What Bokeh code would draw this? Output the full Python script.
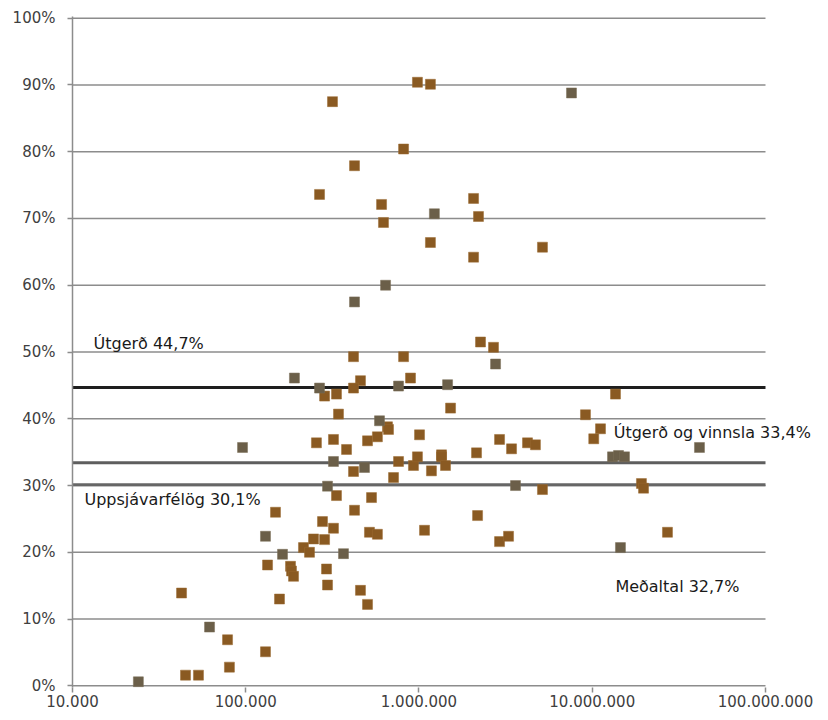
from bokeh.plotting import figure
from bokeh.models import (Range1d, FixedTicker, PrintfTickFormatter, Label,
                          ColumnDataSource)
from bokeh.embed import file_html
from bokeh.resources import INLINE

# ---- data (revenue on log axis, margin in %) ----
# brown series
rev_brown = [979500, 1164000, 316700, 814700, 424400, 266600, 608000, 623700,
             2065000, 2205000, 1164000, 5160000, 2065000, 2265000, 2692000,
             418800, 814700, 893300, 459400, 285100, 334000, 418800, 1521000,
             343000, 657700, 666800, 1007000, 2917000, 255900, 320900, 381700,
             504500, 575400, 2148000, 1349000, 418800, 761900, 929000, 979500,
             1180000, 1349000, 1422000, 712800, 5160000, 19230000, 19770000,
             334000, 532000, 148500, 424400, 2178000, 277300, 320900, 246200,
             285100, 517700, 575400, 215400, 233300, 133600, 181300, 183700,
             188700, 292600, 296500, 459400, 42600, 156600, 504500, 78500,
             130000, 80500, 44900, 53350, 1076000, 2917000, 3287000, 27180000,
             9140000, 13620000, 11160000, 10200000, 3421000, 4230000, 4700000]
pct_brown = [90.4, 90.1, 87.5, 80.4, 77.9, 73.6, 72.1, 69.4,
             73.0, 70.3, 66.4, 65.7, 64.2, 51.5, 50.7,
             49.3, 49.3, 46.1, 45.7, 43.4, 43.7, 44.6, 41.6,
             40.7, 38.8, 38.4, 37.6, 36.9, 36.4, 36.9, 35.4,
             36.7, 37.3, 34.9, 34.6, 32.1, 33.6, 33.0, 34.3,
             32.2, 34.3, 33.0, 31.2, 29.4, 30.3, 29.6,
             28.5, 28.2, 26.0, 26.3, 25.5, 24.6, 23.6, 22.0,
             21.9, 23.0, 22.7, 20.7, 20.0, 18.1, 17.9, 17.2,
             16.4, 17.5, 15.1, 14.3, 13.9, 13.0, 12.2, 6.9,
             5.1, 2.8, 1.6, 1.6, 23.3, 21.6, 22.4, 23.0,
             40.6, 43.7, 38.5, 37.0, 35.5, 36.4, 36.1]
# grey series
rev_grey = [7590000, 1227000, 641200, 424400, 2766000, 191000, 266600, 761900,
            1462000, 591600, 95800, 320900, 484500, 3606000, 296500, 130000,
            163000, 366600, 61800, 24000, 14550000, 41590000, 13090000,
            14180000, 15350000]
pct_grey = [88.8, 70.7, 60.0, 57.5, 48.2, 46.1, 44.6, 44.9,
            45.1, 39.7, 35.7, 33.6, 32.7, 30.0, 29.9, 22.4,
            19.7, 19.8, 8.8, 0.6, 20.7, 35.7, 34.3,
            34.5, 34.3]

ref_values = [44.7, 33.4, 30.1]
ref_labels = ["Útgerð 44,7%", "Útgerð og vinnsla 33,4%", "Uppsjávarfélög 30,1%",
              "Meðaltal 32,7%"]

x_ticks = [10000, 100000, 1000000, 10000000, 100000000]
x_tick_labels = ["10.000", "100.000", "1.000.000", "10.000.000", "100.000.000"]
y_ticks = list(range(0, 101, 10))

FONT = "DejaVu Sans"
GRID = "#8c8c8c"

# frame runs past the last decade so the right-hand label is not clipped;
# grid and reference lines stop at the last x tick
x_end = 10 ** 8.3175
p = figure(width=820, height=712, x_axis_type="log",
           x_range=Range1d(x_ticks[0], x_end), y_range=Range1d(-0.25, 100.25),
           output_backend="svg", toolbar_location=None,
           min_border_left=72, min_border_right=0,
           min_border_top=16, min_border_bottom=25)
p.outline_line_color = None
p.background_fill_color = "white"
p.border_fill_color = "white"
p.xgrid.grid_line_color = None
p.ygrid.grid_line_color = None

# y axis
p.yaxis.ticker = FixedTicker(ticks=y_ticks)
p.yaxis.formatter = PrintfTickFormatter(format="%d%%")
p.yaxis.axis_line_color = GRID
p.yaxis.axis_line_width = 1.5
p.yaxis.major_tick_line_color = GRID
p.yaxis.major_tick_line_width = 1.5
p.yaxis.major_tick_out = 5
p.yaxis.major_tick_in = 0
p.yaxis.minor_tick_line_color = None
p.yaxis.major_label_standoff = 12
p.yaxis.major_label_text_font = FONT
p.yaxis.major_label_text_font_size = "15px"
p.yaxis.major_label_text_color = "#404040"

# x axis
p.xaxis.ticker = FixedTicker(ticks=x_ticks, minor_ticks=[])
p.xaxis.major_label_overrides = {t: l for t, l in zip(x_ticks, x_tick_labels)}
p.xaxis.axis_line_color = None
p.xaxis.major_tick_line_color = GRID
p.xaxis.major_tick_line_width = 1.5
p.xaxis.major_tick_out = 5
p.xaxis.major_tick_in = 0
p.xaxis.minor_tick_line_color = None
p.xaxis.major_label_standoff = 2
p.xaxis.major_label_text_font = FONT
p.xaxis.major_label_text_font_size = "15px"
p.xaxis.major_label_text_color = "#404040"

# horizontal gridlines (stop at last decade)
p.segment(x0=[x_ticks[0]] * len(y_ticks), x1=[x_ticks[-1]] * len(y_ticks),
          y0=y_ticks, y1=y_ticks, line_color=GRID, line_width=1.5)

# reference lines
p.segment(x0=[x_ticks[0]] * 3, x1=[x_ticks[-1]] * 3, y0=ref_values, y1=ref_values,
          line_color=["#1e1e1e", "#5e5e5e", "#666666"], line_width=3)

# points
src_b = ColumnDataSource(dict(x=rev_brown, y=pct_brown))
src_g = ColumnDataSource(dict(x=rev_grey, y=pct_grey))
p.scatter("x", "y", source=src_b, marker="square", size=10,
          fill_color="#8a5a22", line_color="#9a6a32", line_width=0.5)
p.scatter("x", "y", source=src_g, marker="square", size=10,
          fill_color="#6b5f49", line_color="#7a6e58", line_width=0.5)

# annotation labels
label_pos = [(13220, 51.3), (13300000, 38.0), (11730, 27.9), (13600000, 14.9)]
for (lx, ly), txt in zip(label_pos, ref_labels):
    p.add_layout(Label(x=lx, y=ly, text=txt, text_font=FONT,
                       text_font_size="16px", text_color="#1a1a1a",
                       text_baseline="middle", text_align="left"))

open("out.html", "w").write(file_html(p, INLINE))
